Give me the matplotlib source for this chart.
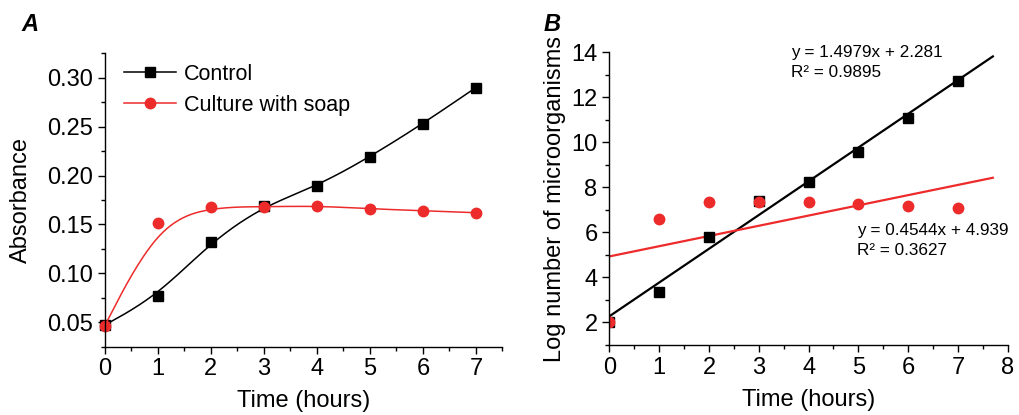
import numpy as np
import matplotlib.pyplot as plt
from matplotlib.ticker import MultipleLocator

plt.rcParams['font.family'] = ['Liberation Sans', 'DejaVu Sans']

# panel A data
hours = [0, 1, 2, 3, 4, 5, 6, 7]
control_abs = [0.047, 0.077, 0.132, 0.169, 0.189, 0.219, 0.253, 0.290]
soap_abs = [0.046, 0.151, 0.168, 0.168, 0.169, 0.166, 0.164, 0.162]

# panel B data
control_log = [2.0, 3.35, 5.79, 7.40, 8.26, 9.59, 11.07, 12.73]
soap_log = [2.0, 6.62, 7.34, 7.34, 7.37, 7.27, 7.17, 7.08]
control_eq = ['y = 1.4979x + 2.281', 'R² = 0.9895']
soap_eq = ['y = 0.4544x + 4.939', 'R² = 0.3627']

RED = '#ED2B2B'


def bspline(x, y, n=40):
    # clamped uniform cubic B-spline, data points used as control points
    px = np.r_[[x[0]] * 2, x, [x[-1]] * 2].astype(float)
    py = np.r_[[y[0]] * 2, y, [y[-1]] * 2].astype(float)
    t = np.linspace(0, 1, n)
    b0 = (1 - t) ** 3 / 6
    b1 = (3 * t ** 3 - 6 * t ** 2 + 4) / 6
    b2 = (-3 * t ** 3 + 3 * t ** 2 + 3 * t + 1) / 6
    b3 = t ** 3 / 6
    xs, ys = [], []
    for i in range(len(px) - 3):
        xs.append(b0 * px[i] + b1 * px[i + 1] + b2 * px[i + 2] + b3 * px[i + 3])
        ys.append(b0 * py[i] + b1 * py[i + 1] + b2 * py[i + 2] + b3 * py[i + 3])
    return np.concatenate(xs), np.concatenate(ys)


def style(ax):
    for s in ['top', 'right']:
        ax.spines[s].set_visible(False)
    for s in ['left', 'bottom']:
        ax.spines[s].set_linewidth(1.0)
    ax.tick_params(which='major', length=5, width=1, labelsize=17, direction='out')
    ax.tick_params(which='minor', length=3, width=1, direction='out')


fig = plt.figure(figsize=(10.19, 4.15), dpi=100)

# ---- A
axA = fig.add_axes([0.1026, 0.1646, 0.3905, 0.707])
bx, by = bspline(hours, control_abs)
axA.plot(bx, by, color='black', lw=1.1)
axA.plot(hours, control_abs, 's', color='black', ms=7.5, clip_on=False)
bx, by = bspline(hours, soap_abs)
axA.plot(bx, by, color=RED, lw=1.1)
axA.plot(hours, soap_abs, 'o', color=RED, ms=7.5, clip_on=False)
axA.plot([], [], 's-', color='black', ms=7.5, lw=1.1, label='Control')
axA.plot([], [], 'o-', color=RED, ms=7.5, lw=1.1, label='Culture with soap')
axA.set_xlim(0, 7.5)
axA.set_ylim(0.025, 0.325)
axA.xaxis.set_major_locator(MultipleLocator(1))
axA.xaxis.set_minor_locator(MultipleLocator(0.5))
axA.yaxis.set_major_locator(MultipleLocator(0.05))
axA.yaxis.set_minor_locator(MultipleLocator(0.025))
axA.yaxis.set_major_formatter(lambda v, p: f'{v:.2f}')
style(axA)
axA.set_xlabel('Time (hours)', fontsize=17, labelpad=7)
axA.set_ylabel('Absorbance', fontsize=17, labelpad=11)
axA.legend(loc='upper left', bbox_to_anchor=(0.0, 1.03), frameon=False,
           fontsize=15.5, handlelength=2.4, handletextpad=0.4, labelspacing=0.45)

# ---- B
axB = fig.add_axes([0.598, 0.1687, 0.391, 0.705])
xfit = np.linspace(0, 7.7, 50)
k, b = np.polyfit(hours, control_log, 1)
axB.plot(xfit, k * xfit + b, color='black', lw=1.6)
k, b = np.polyfit(hours, soap_log, 1)
axB.plot(xfit, k * xfit + b, color=RED, lw=1.6)
axB.plot(hours, control_log, 's', color='black', ms=7)
axB.plot(hours, soap_log, 'o', color=RED, ms=7.5)
axB.set_xlim(0, 8)
axB.set_ylim(1, 14)
axB.xaxis.set_major_locator(MultipleLocator(1))
axB.xaxis.set_minor_locator(MultipleLocator(0.5))
axB.yaxis.set_major_locator(MultipleLocator(2))
axB.yaxis.set_minor_locator(MultipleLocator(1))
style(axB)
axB.set_xlabel('Time (hours)', fontsize=17, labelpad=7)
axB.set_ylabel('Log number of microorganisms', fontsize=17)
axB.text(3.65, 14.0, control_eq[0], fontsize=12.3, va='center')
axB.text(3.65, 13.1, control_eq[1], fontsize=12.3, va='center')
axB.text(4.98, 6.1, soap_eq[0], fontsize=12.3, va='center')
axB.text(4.98, 5.2, soap_eq[1], fontsize=12.3, va='center')

fig.text(0.029, 0.94, 'A', fontsize=17, fontweight='bold', fontstyle='italic',
         ha='center', va='center')
fig.text(0.542, 0.94, 'B', fontsize=17, fontweight='bold', fontstyle='italic',
         ha='center', va='center')

fig.savefig('out.png', dpi=100)
